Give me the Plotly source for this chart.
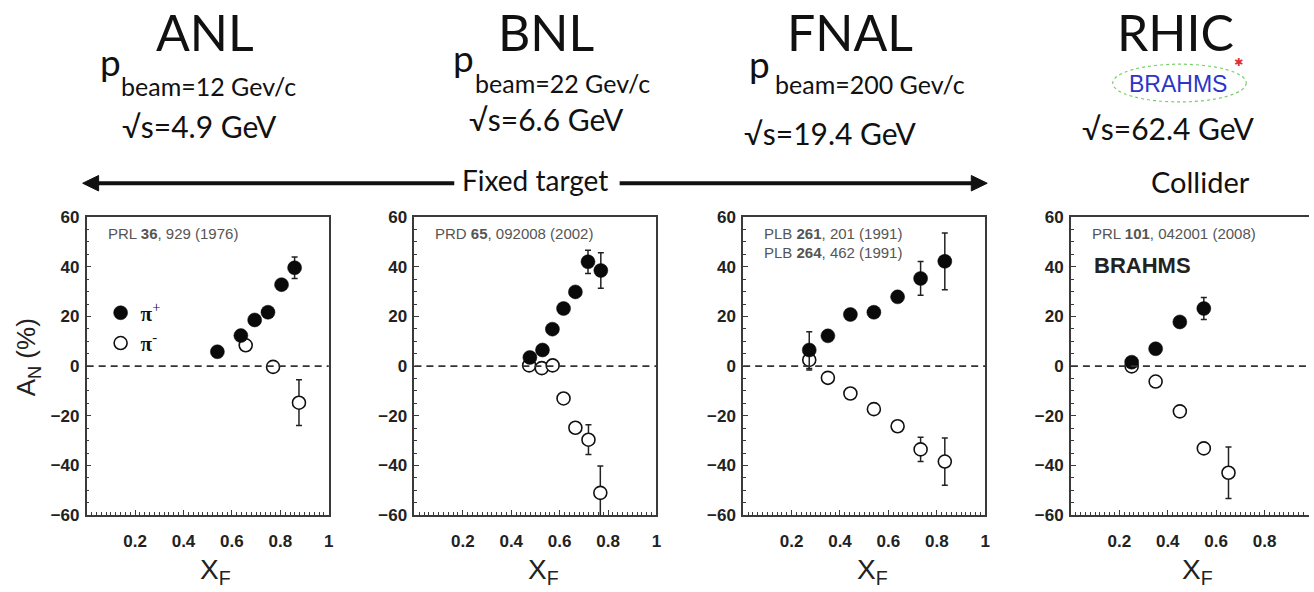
import plotly.graph_objects as go

W, H = 1314, 592

# ---------------- data ----------------
panels = ["ANL", "BNL", "FNAL", "RHIC"]

anl_x_pip = [0.540, 0.637, 0.694, 0.749, 0.805, 0.859]
anl_y_pip = [5.8, 12.3, 18.6, 21.7, 32.8, 39.6]
anl_e_pip = [1.5, 1.5, 1.5, 1.5, 1.5, 4.3]
anl_x_pim = [0.657, 0.770, 0.877]
anl_y_pim = [8.4, -0.3, -14.7]
anl_e_pim = [1.5, 1.5, 9.2]

bnl_x_pip = [0.477, 0.529, 0.570, 0.616, 0.665, 0.717, 0.770]
bnl_y_pip = [3.5, 6.5, 14.9, 23.2, 29.9, 42.0, 38.5]
bnl_e_pip = [1.5, 1.5, 1.5, 1.5, 2.0, 4.7, 7.1]
bnl_x_pim = [0.474, 0.526, 0.571, 0.616, 0.665, 0.719, 0.768]
bnl_y_pim = [0.3, -0.8, 0.3, -13.0, -24.8, -29.6, -51.0]
bnl_e_pim = [1.5, 1.5, 1.5, 1.5, 2.0, 6.0, 10.8]

fnal_x_pip = [0.273, 0.350, 0.443, 0.540, 0.638, 0.733, 0.833]
fnal_y_pip = [6.5, 12.2, 20.8, 21.7, 27.9, 35.3, 42.2]
fnal_e_pip = [7.4, 1.5, 1.5, 1.5, 2.0, 6.8, 11.4]
fnal_x_pim = [0.273, 0.350, 0.443, 0.540, 0.638, 0.733, 0.833]
fnal_y_pim = [2.5, -4.7, -11.0, -17.3, -24.2, -33.5, -38.4]
fnal_e_pim = [4.0, 1.5, 1.5, 1.5, 1.5, 4.9, 9.5]

rhic_x_pip = [0.251, 0.350, 0.450, 0.549]
rhic_y_pip = [1.6, 7.0, 17.8, 23.2]
rhic_e_pip = [1.5, 1.5, 1.5, 4.4]
rhic_x_pim = [0.251, 0.350, 0.450, 0.549, 0.651]
rhic_y_pim = [-0.1, -6.2, -18.2, -33.1, -42.9]
rhic_e_pim = [1.5, 1.5, 1.5, 1.5, 10.4]

refs = [
    ["PRL <b>36</b>, 929 (1976)"],
    ["PRD <b>65</b>, 092008 (2002)"],
    ["PLB <b>261</b>, 201 (1991)", "PLB <b>264</b>, 462 (1991)"],
    ["PRL <b>101</b>, 042001 (2008)"],
]
beam_p = ["beam=12 Gev/c", "beam=22 Gev/c", "beam=200 Gev/c", None]
sqrt_s = ["√s=4.9 GeV", "√s=6.6 GeV", "√s=19.4 GeV", "√s=62.4 GeV"]

y_ticks = [-60, -40, -20, 0, 20, 40, 60]
x_tickvals = [0.2, 0.4, 0.6, 0.8, 1.0]
x_ticktext = ["0.2", "0.4", "0.6", "0.8", "1"]

series = [
    (anl_x_pip, anl_y_pip, anl_e_pip, anl_x_pim, anl_y_pim, anl_e_pim),
    (bnl_x_pip, bnl_y_pip, bnl_e_pip, bnl_x_pim, bnl_y_pim, bnl_e_pim),
    (fnal_x_pip, fnal_y_pip, fnal_e_pip, fnal_x_pim, fnal_y_pim, fnal_e_pim),
    (rhic_x_pip, rhic_y_pip, rhic_e_pip, rhic_x_pim, rhic_y_pim, rhic_e_pim),
]

# ---------------- layout geometry (pixels) ----------------
px_left = [87, 416, 746, 1075]
px_width = 243
px_top, px_bot = 215, 523


def fx(p):
    return p / W


def fy(p):
    return 1 - p / H


fig = go.Figure()
AX = "#3a3a3a"
TICKFONT = dict(family="Liberation Sans, Arial", size=17, color="#222222", weight="bold")

for i, (xp, yp, ep, xm, ym, em) in enumerate(series):
    n = "" if i == 0 else str(i + 1)
    xa, ya = "x" + n, "y" + n
    fig.add_trace(go.Scatter(
        x=xm, y=ym, mode="markers", xaxis=xa, yaxis=ya,
        name="<b>π</b><sup>-</sup>",
        legendrank=2, showlegend=(i == 0),
        error_y=dict(type="data", array=em, color="#222", thickness=1.5, width=3),
        marker=dict(symbol="circle", size=13, color="white",
                    line=dict(color="#111", width=1.6)),
    ))
    fig.add_trace(go.Scatter(
        x=xp, y=yp, mode="markers", xaxis=xa, yaxis=ya,
        name="<b>π</b><sup>+</sup>",
        legendrank=1, showlegend=(i == 0),
        error_y=dict(type="data", array=ep, color="#222", thickness=1.5, width=3),
        marker=dict(symbol="circle", size=14, color="#0a0a0a",
                    line=dict(color="#0a0a0a", width=0.5)),
    ))

layout = dict(
    width=W, height=H, margin=dict(l=0, r=0, t=0, b=0),
    paper_bgcolor="white", plot_bgcolor="white",
    showlegend=True,
    legend=dict(x=fx(101), y=fy(293), xanchor="left", yanchor="top",
                bgcolor="rgba(0,0,0,0)",
                font=dict(family="Liberation Serif, Times New Roman, serif", size=21, color="#111"),
                itemwidth=30, tracegroupgap=0, traceorder="normal"),
)

for i in range(4):
    n = "" if i == 0 else str(i + 1)
    left = px_left[i]
    right = min(left + px_width, W)
    xmax = (right - left) / px_width
    layout["xaxis" + n] = dict(
        domain=[fx(left), fx(right)], range=[0, xmax], anchor="y" + n,
        showgrid=False, zeroline=False, showline=True, linecolor=AX, linewidth=1.6,
        mirror=True, ticks="inside", ticklen=5, tickwidth=1, tickcolor=AX,
        tickmode="array", tickvals=x_tickvals, ticktext=x_ticktext,
        tickfont=TICKFONT, ticklabelstandoff=10,
        minor=dict(ticks="inside", ticklen=3, tickwidth=1, tickcolor=AX,
                   tickmode="linear", tick0=0, dtick=0.02, showgrid=False),
        fixedrange=True,
    )
    layout["yaxis" + n] = dict(
        domain=[fy(px_bot), fy(px_top)], range=[-60, 60], anchor="x" + n,
        showgrid=False, zeroline=False, showline=True, linecolor=AX, linewidth=1.6,
        mirror=(i < 3), ticks="inside", ticklen=5, tickwidth=1, tickcolor=AX,
        tickmode="array", tickvals=y_ticks,
        tickfont=TICKFONT, ticklabelstandoff=2,
        minor=dict(ticks="inside", ticklen=3, tickwidth=1, tickcolor=AX,
                   tickmode="linear", tick0=0, dtick=5, showgrid=False),
        fixedrange=True,
    )

fig.update_layout(**layout)

shapes = []
annotations = []

for i in range(4):
    n = "" if i == 0 else str(i + 1)
    # dashed zero line
    shapes.append(dict(type="line", xref=("x" + n) + " domain", yref="y" + n,
                       x0=0, x1=1, y0=0, y1=0,
                       line=dict(color="#333", width=1.6, dash="7px,5px")))
    # reference text
    for k, r in enumerate(refs[i]):
        annotations.append(dict(text=r, xref="paper", yref="paper",
                                x=fx(px_left[i] + 19), y=fy(232 + 20 * k),
                                xanchor="left", yanchor="middle", showarrow=False,
                                font=dict(family="Liberation Sans, Arial",
                                          size=15, color="#555")))
    # x-axis title
    annotations.append(dict(text="X<sub>F</sub>", xref=("x" + n) + " domain", yref="paper",
                            x=0.5, y=fy(581), xanchor="center", yanchor="middle",
                            xshift=8, showarrow=False,
                            font=dict(family="Liberation Sans, Arial", size=28, color="#222")))

# BRAHMS label in last panel
annotations.append(dict(text="<b>BRAHMS</b>", xref="paper", yref="paper",
                        x=fx(1096), y=fy(265), xanchor="left", yanchor="middle",
                        showarrow=False,
                        font=dict(family="Liberation Sans, Arial", size=22, color="#222")))

# y-axis title
annotations.append(dict(text="A<sub>N</sub> (%)", xref="paper", yref="paper",
                        x=fx(28), y=fy(360), textangle=-90, xanchor="center", yanchor="middle",
                        showarrow=False,
                        font=dict(family="Liberation Sans, Arial", size=26, color="#222")))

# headers
HF = "Lato, Open Sans, sans-serif"
head_x = [206, 548, 853, 1180]
for i in range(4):
    annotations.append(dict(text=panels[i], xref="paper", yref="paper",
                            x=fx(head_x[i]), y=1.0, xanchor="center", yanchor="top",
                            borderpad=0, yshift=8,
                            showarrow=False, font=dict(family=HF, size=50, color="#111")))

p_pos = [(111, 54), (465, 50), (762, 56)]
sub_pos = [(119, 80), (475, 76), (776, 78)]
for i in range(3):
    annotations.append(dict(text="p", xref="paper", yref="paper",
                            x=fx(p_pos[i][0]), y=fy(p_pos[i][1]), xanchor="center", yanchor="middle",
                            showarrow=False, font=dict(family=HF, size=37, color="#111")))
    annotations.append(dict(text=beam_p[i], xref="paper", yref="paper",
                            x=fx(sub_pos[i][0]), y=fy(sub_pos[i][1]), xanchor="left", yanchor="middle",
                            showarrow=False, font=dict(family=HF, size=25, color="#111")))

s_pos = [(200, 121), (549, 114), (833, 128), (1172, 123)]
for i in range(4):
    annotations.append(dict(text=sqrt_s[i], xref="paper", yref="paper",
                            x=fx(s_pos[i][0]), y=fy(s_pos[i][1]), xanchor="center", yanchor="middle",
                            showarrow=False, font=dict(family=HF, size=30, color="#111")))

# BRAHMS logo
shapes.append(dict(type="circle", xref="paper", yref="paper",
                   x0=fx(1117), x1=fx(1251), y0=fy(96), y1=fy(57),
                   line=dict(color="#7acc6a", width=1.2, dash="dot")))
annotations.append(dict(text="BRAHMS", xref="paper", yref="paper",
                        x=fx(1182), y=fy(77), xanchor="center", yanchor="middle",
                        showarrow=False,
                        font=dict(family="Liberation Sans, Arial", size=23, color="#2d35c8")))
annotations.append(dict(text="✱", xref="paper", yref="paper",
                        x=fx(1243), y=fy(55), xanchor="center", yanchor="middle",
                        showarrow=False, font=dict(family="DejaVu Sans", size=11, color="#e03030")))

# arrows (shapes) + Fixed target
AY = 180
shapes.append(dict(type="line", xref="paper", yref="paper",
                   x0=fx(95), x1=fx(456), y0=fy(AY), y1=fy(AY),
                   line=dict(color="#111", width=4)))
shapes.append(dict(type="path", xref="paper", yref="paper",
                   path=f"M {fx(83)} {fy(AY)} L {fx(99)} {fy(AY - 8)} L {fx(99)} {fy(AY + 8)} Z",
                   fillcolor="#111", line=dict(color="#111", width=1)))
shapes.append(dict(type="line", xref="paper", yref="paper",
                   x0=fx(622), x1=fx(978), y0=fy(AY), y1=fy(AY),
                   line=dict(color="#111", width=4)))
shapes.append(dict(type="path", xref="paper", yref="paper",
                   path=f"M {fx(991)} {fy(AY)} L {fx(975)} {fy(AY - 8)} L {fx(975)} {fy(AY + 8)} Z",
                   fillcolor="#111", line=dict(color="#111", width=1)))
annotations.append(dict(text="Fixed target", xref="paper", yref="paper",
                        x=fx(537), y=fy(177), xanchor="center", yanchor="middle",
                        showarrow=False, font=dict(family=HF, size=28, color="#111")))
annotations.append(dict(text="Collider", xref="paper", yref="paper",
                        x=fx(1205), y=fy(178), xanchor="center", yanchor="middle",
                        showarrow=False, font=dict(family=HF, size=29, color="#111")))

fig.update_layout(shapes=shapes, annotations=annotations)

fig.write_html("out.html")
